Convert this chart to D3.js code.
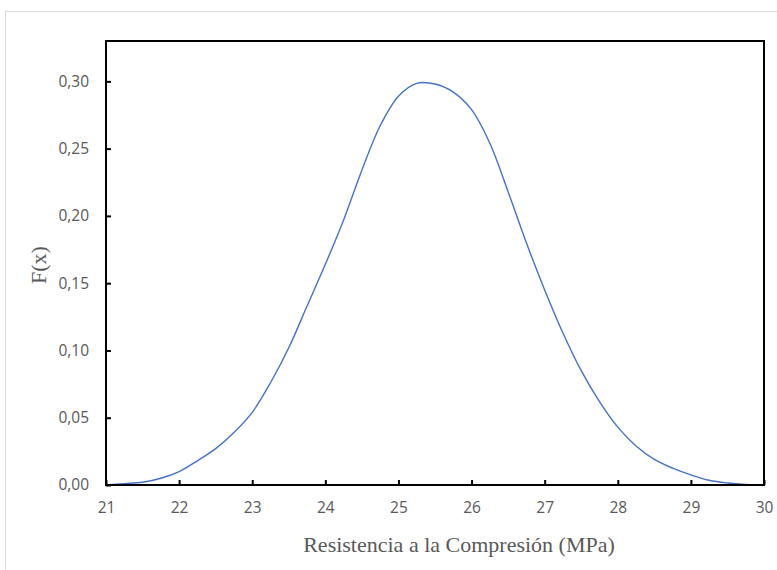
<!DOCTYPE html>
<html>
<head>
<meta charset="utf-8">
<script src="https://cdn.jsdelivr.net/npm/d3@7"></script>
<style>
  html, body { margin: 0; padding: 0; background: #fff; }
  svg { display: block; }
</style>
</head>
<body>
<svg id="chart" width="777" height="570"></svg>
<script>
// Data
const xValues = [21.00, 21.25, 21.50, 21.75, 22.00, 22.25, 22.50, 22.75, 23.00, 23.25, 23.50, 23.75,
                 24.00, 24.25, 24.50, 24.75, 25.00, 25.25, 25.50, 25.75, 26.00, 26.25, 26.50, 26.75,
                 27.00, 27.25, 27.50, 27.75, 28.00, 28.25, 28.50, 28.75, 29.00, 29.25, 29.50, 29.75, 30.00];
const fValues = [0.000, 0.001, 0.002, 0.005, 0.010, 0.018, 0.027, 0.039, 0.054, 0.076, 0.102, 0.133,
                 0.164, 0.197, 0.234, 0.267, 0.289, 0.2985, 0.2980, 0.292, 0.279, 0.254, 0.218, 0.180,
                 0.145, 0.113, 0.085, 0.062, 0.043, 0.029, 0.019, 0.0125, 0.0075, 0.0035, 0.0015, 0.0004, 0.000];
const xTicks = [21, 22, 23, 24, 25, 26, 27, 28, 29, 30];
const yTicks = [0, 0.05, 0.10, 0.15, 0.20, 0.25, 0.30];
const xTitle = "Resistencia a la Compresión (MPa)";
const yTitle = "F(x)";

const svg = d3.select("#chart");
const plot = { left: 106, right: 764, top: 41, bottom: 485 };

// outer chart border
svg.append("rect")
  .attr("x", 5.5).attr("y", 11.5)
  .attr("width", 790).attr("height", 580)
  .attr("fill", "#fff").attr("stroke", "#d9d9d9").attr("stroke-width", 1);

const x = d3.scaleLinear().domain([21, 30]).range([plot.left, plot.right]);
const y = d3.scaleLinear().domain([0, 0.33]).range([plot.bottom, plot.top]);

const fmt = v => d3.format(".2f")(v).replace(".", ",");

// y axis with inward ticks
const yAxis = d3.axisLeft(y).tickValues(yTicks).tickSize(-5).tickPadding(17).tickFormat(fmt);
const gy = svg.append("g").attr("transform", `translate(${plot.left},0)`).call(yAxis);
gy.select(".domain").remove();
gy.selectAll(".tick line").attr("stroke", "#000").attr("stroke-width", 2);
gy.selectAll(".tick text")
  .attr("fill", "#595959")
  .style("font-family", "'Open Sans', 'Noto Sans', sans-serif")
  .style("font-size", "15.5px");

// x axis with inward ticks
const xAxis = d3.axisBottom(x).tickValues(xTicks).tickSize(-5).tickPadding(17).tickFormat(d3.format("d"));
const gx = svg.append("g").attr("transform", `translate(0,${plot.bottom})`).call(xAxis);
gx.select(".domain").remove();
gx.selectAll(".tick line").attr("stroke", "#000").attr("stroke-width", 2);
gx.selectAll(".tick text")
  .attr("fill", "#595959")
  .style("font-family", "'Open Sans', 'Noto Sans', sans-serif")
  .style("font-size", "15.5px");

// curve
const line = d3.line()
  .x((d, i) => x(xValues[i]))
  .y(d => y(d))
  .curve(d3.curveCatmullRom.alpha(0.5));

svg.append("path")
  .datum(fValues)
  .attr("d", line)
  .attr("fill", "none")
  .attr("stroke", "#4472C4")
  .attr("stroke-width", 1.4);

// plot area frame
svg.append("rect")
  .attr("x", plot.left).attr("y", plot.top)
  .attr("width", plot.right - plot.left).attr("height", plot.bottom - plot.top)
  .attr("fill", "none").attr("stroke", "#000").attr("stroke-width", 2);

// axis titles
svg.append("text")
  .attr("x", 459)
  .attr("y", 552)
  .attr("text-anchor", "middle")
  .attr("fill", "#595959")
  .style("font-family", "'Liberation Serif', 'DejaVu Serif', serif")
  .style("font-size", "22px")
  .text(xTitle);

svg.append("text")
  .attr("transform", `translate(46,265) rotate(-90)`)
  .attr("text-anchor", "middle")
  .attr("fill", "#595959")
  .style("font-family", "'Liberation Serif', 'DejaVu Serif', serif")
  .style("font-size", "22px")
  .text(yTitle);
</script>
</body>
</html>
